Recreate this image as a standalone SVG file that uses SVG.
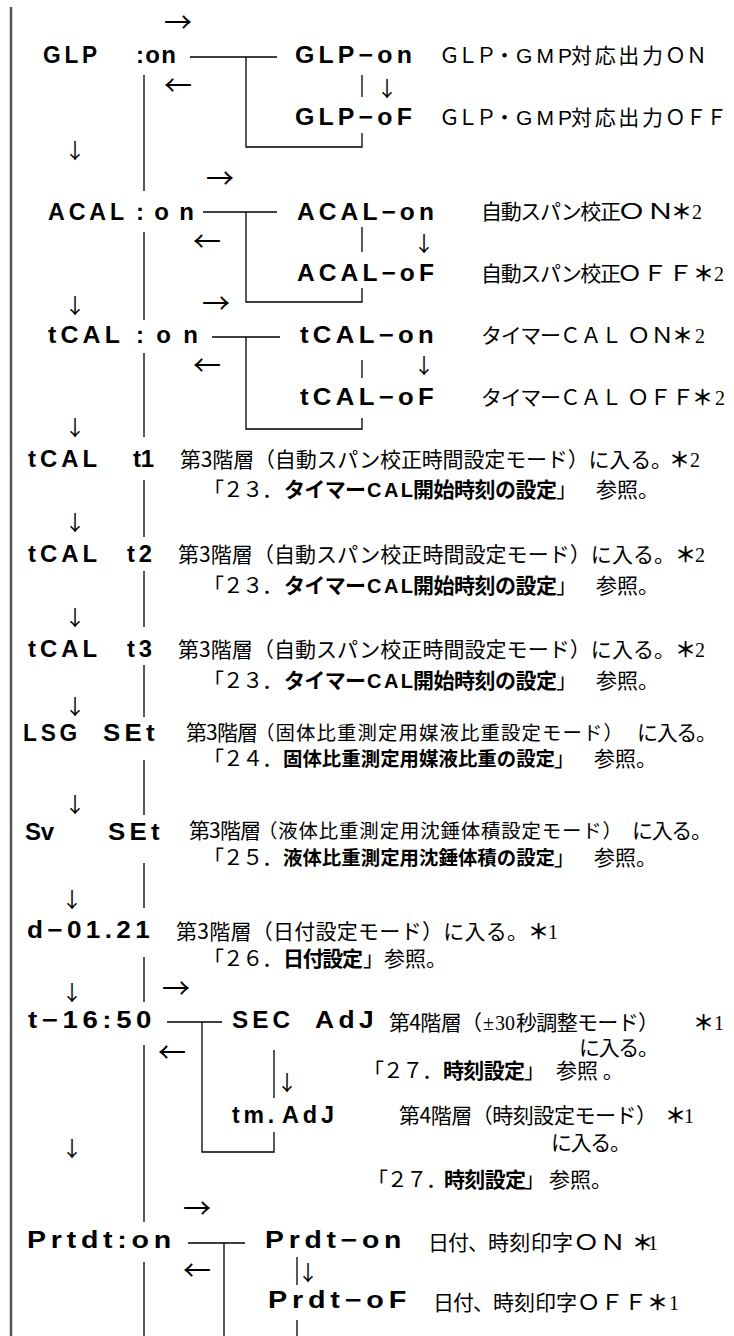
<svg xmlns="http://www.w3.org/2000/svg" width="734" height="1336" viewBox="0 0 734 1336">
<style>
.c{font-family:"Liberation Sans",Arial,sans-serif;font-weight:bold;font-size:24px;fill:#000}
.w{letter-spacing:4px}
.j{font-family:"Noto Sans CJK JP","Noto Sans CJK SC",sans-serif;font-size:21px;fill:#000}
.jn{font-family:"Noto Sans CJK JP","Noto Sans CJK SC",sans-serif;font-size:19.4px;fill:#000}
.b{font-weight:bold}
.lat{font-family:"Liberation Sans",Arial,sans-serif;font-size:21px;fill:#000}
.lb{font-family:"Liberation Sans",Arial,sans-serif;font-size:20px;font-weight:bold;fill:#000}
.s{font-family:"Liberation Serif","Times New Roman",serif;font-size:20px;font-weight:normal;fill:#000}
.st{font-family:"Noto Sans CJK JP",sans-serif;font-size:21px;font-weight:bold;fill:#000}
.ar{font-family:"Noto Sans CJK JP",sans-serif;font-size:28px;fill:#000;text-anchor:middle}
.dn{font-family:"Noto Sans CJK JP",sans-serif;font-size:21px;fill:#000;text-anchor:middle}
.l{stroke:#000;stroke-width:1.3;fill:none}
.m{stroke:#222;stroke-width:1.5;fill:none}
.bd{stroke:#555;stroke-width:2.5;fill:none}
</style>

<g id="connectors">
<line class="bd" x1="11" y1="7" x2="11" y2="1336"/>
<path class="m" d="M144 75V191 M144 232V320 M144 353V437 M144 480V537 M144 571V627 M144 665V717 M144 760V815 M144 863V908 M144 957V1002 M144 1045V1222 M144 1262V1336"/>
<path class="l" d="M190 57H277 M246 57V147H362V133 M362 75V97"/>
<path class="l" d="M203 212H277 M246 212V302H362V288 M362 227V252"/>
<path class="l" d="M212 337H280 M246 337V429H362V418 M362 360V378"/>
<path class="l" d="M167 1022H222 M202 1022V1152H274V1132 M274 1050V1098"/>
<path class="l" d="M188 1243H245 M224 1243V1336 M297 1257V1285 M297 1320V1336"/>
</g>

<g id="arrows">
<text class="ar" x="178" y="33">→</text>
<text class="ar" x="178" y="96">←</text>
<text class="ar" x="220" y="189">→</text>
<text class="ar" x="207" y="252">←</text>
<text class="ar" x="216" y="314">→</text>
<text class="ar" x="207" y="376">←</text>
<text class="ar" x="176" y="999">→</text>
<text class="ar" x="172" y="1063">←</text>
<text class="ar" x="197" y="1219">→</text>
<text class="ar" x="197" y="1281">←</text>
<text class="dn" x="75" y="158">↓</text>
<text class="dn" x="75" y="313">↓</text>
<text class="dn" x="75" y="435">↓</text>
<text class="dn" x="75" y="530">↓</text>
<text class="dn" x="75" y="625">↓</text>
<text class="dn" x="75" y="714">↓</text>
<text class="dn" x="75" y="812">↓</text>
<text class="dn" x="72" y="907">↓</text>
<text class="dn" x="72" y="1000">↓</text>
<text class="dn" x="72" y="1156">↓</text>
<text class="dn" x="387" y="96">↓</text>
<text class="dn" x="424" y="251">↓</text>
<text class="dn" x="424" y="373">↓</text>
<text class="dn" x="287" y="1090">↓</text>
<text class="dn" x="308" y="1280">↓</text>
</g>

<g id="node-glp">
<text class="c w" x="43" y="63" textLength="58" lengthAdjust="spacingAndGlyphs">GLP</text>
<text class="c" x="136" y="63" textLength="40">:on</text>
</g>
<g id="node-glp-on">
<text class="c w" x="295" y="63" textLength="121" lengthAdjust="spacingAndGlyphs">GLP−on</text>
<text class="j" x="439" y="63" textLength="76">ＧＬＰ・</text>
<text class="lat" x="516" y="63" textLength="56">GMP</text>
<text class="j" x="571" y="63" textLength="92">対応出力</text>
<text class="j" x="665" y="63" textLength="42" lengthAdjust="spacingAndGlyphs">ＯＮ</text>
</g>
<g id="node-glp-of">
<text class="c w" x="295" y="125" textLength="121" lengthAdjust="spacingAndGlyphs">GLP−oF</text>
<text class="j" x="439" y="125" textLength="76">ＧＬＰ・</text>
<text class="lat" x="516" y="125" textLength="56">GMP</text>
<text class="j" x="571" y="125" textLength="92">対応出力</text>
<text class="j" x="665" y="125" textLength="62" lengthAdjust="spacingAndGlyphs">ＯＦＦ</text>
</g>

<g id="node-acal">
<text class="c w" x="48" y="220" textLength="80" lengthAdjust="spacingAndGlyphs">ACAL</text>
<text class="c" x="136" y="220" textLength="58">:on</text>
</g>
<g id="node-acal-on">
<text class="c w" x="297" y="220" textLength="141" lengthAdjust="spacingAndGlyphs">ACAL−on</text>
<text class="j" x="481" y="219" textLength="140">自動スパン校正</text>
<text class="j" x="617" y="219" textLength="58" lengthAdjust="spacingAndGlyphs">ＯＮ</text>
<text class="st" x="671" y="219">＊<tspan class="s" x="692">2</tspan></text>
</g>
<g id="node-acal-of">
<text class="c w" x="297" y="281" textLength="141" lengthAdjust="spacingAndGlyphs">ACAL−oF</text>
<text class="j" x="481" y="281" textLength="140">自動スパン校正</text>
<text class="j" x="617" y="281" textLength="76" lengthAdjust="spacingAndGlyphs">ＯＦＦ</text>
<text class="st" x="693" y="281">＊<tspan class="s" x="714">2</tspan></text>
</g>

<g id="node-tcal">
<text class="c w" x="48" y="343" textLength="76" lengthAdjust="spacingAndGlyphs">tCAL</text>
<text class="c" x="136" y="343" textLength="62">:on</text>
</g>
<g id="node-tcal-on">
<text class="c w" x="300" y="343" textLength="138" lengthAdjust="spacingAndGlyphs">tCAL−on</text>
<text class="j" x="481" y="343" textLength="80">タイマー</text>
<text class="j" x="560" y="343" textLength="62" lengthAdjust="spacingAndGlyphs">ＣＡＬ</text>
<text class="j" x="627" y="343" textLength="47" lengthAdjust="spacingAndGlyphs">ＯＮ</text>
<text class="st" x="672" y="343">＊<tspan class="s" x="695">2</tspan></text>
</g>
<g id="node-tcal-of">
<text class="c w" x="300" y="405" textLength="138" lengthAdjust="spacingAndGlyphs">tCAL−oF</text>
<text class="j" x="481" y="405" textLength="80">タイマー</text>
<text class="j" x="560" y="405" textLength="62" lengthAdjust="spacingAndGlyphs">ＣＡＬ</text>
<text class="j" x="627" y="405" textLength="67" lengthAdjust="spacingAndGlyphs">ＯＦＦ</text>
<text class="st" x="692" y="405">＊<tspan class="s" x="715">2</tspan></text>
</g>

<g id="node-tcal-t1">
<text class="c w" x="28" y="467" textLength="73" lengthAdjust="spacingAndGlyphs">tCAL</text>
<text class="c" x="133" y="467" textLength="21">t1</text>
<text class="j" x="180" y="467" textLength="492">第3階層（自動スパン校正時間設定モード）に入る。</text>
<text class="st" x="669" y="467">＊<tspan class="s" x="690">2</tspan></text>
<text class="j" x="203" y="497" textLength="80">「２３．</text>
<text class="j b" x="284" y="497" textLength="82">タイマー</text>
<text class="lb" x="367" y="497" textLength="46">CAL</text>
<text class="j b" x="413" y="497" textLength="144">開始時刻の設定</text>
<text class="j" x="556" y="497">」<tspan x="596">参照。</tspan></text>
</g>
<g id="node-tcal-t2">
<text class="c w" x="28" y="562" textLength="73" lengthAdjust="spacingAndGlyphs">tCAL</text>
<text class="c w" x="127" y="562" textLength="29" lengthAdjust="spacingAndGlyphs">t2</text>
<text class="j" x="178" y="562" textLength="497">第3階層（自動スパン校正時間設定モード）に入る。</text>
<text class="st" x="675" y="562">＊<tspan class="s" x="695">2</tspan></text>
<text class="j" x="203" y="593" textLength="80">「２３．</text>
<text class="j b" x="284" y="593" textLength="82">タイマー</text>
<text class="lb" x="367" y="593" textLength="46">CAL</text>
<text class="j b" x="413" y="593" textLength="144">開始時刻の設定</text>
<text class="j" x="556" y="593">」<tspan x="596">参照。</tspan></text>
</g>
<g id="node-tcal-t3">
<text class="c w" x="28" y="657" textLength="73" lengthAdjust="spacingAndGlyphs">tCAL</text>
<text class="c w" x="127" y="657" textLength="29" lengthAdjust="spacingAndGlyphs">t3</text>
<text class="j" x="178" y="657" textLength="497">第3階層（自動スパン校正時間設定モード）に入る。</text>
<text class="st" x="675" y="657">＊<tspan class="s" x="695">2</tspan></text>
<text class="j" x="203" y="688" textLength="80">「２３．</text>
<text class="j b" x="284" y="688" textLength="82">タイマー</text>
<text class="lb" x="367" y="688" textLength="46">CAL</text>
<text class="j b" x="413" y="688" textLength="144">開始時刻の設定</text>
<text class="j" x="556" y="688">」<tspan x="596">参照。</tspan></text>
</g>

<g id="node-lsg">
<text class="c w" x="23" y="741" textLength="58" lengthAdjust="spacingAndGlyphs">LSG</text>
<text class="c w" x="103" y="741" textLength="56" lengthAdjust="spacingAndGlyphs">SEt</text>
<text class="j" x="186" y="740" textLength="72">第3階層</text>
<text class="jn" x="255" y="740" textLength="368">（固体比重測定用媒液比重設定モード）</text>
<text class="j" x="637" y="740" textLength="80">に入る。</text>
<text class="j" x="203" y="766" textLength="80">「２４．</text>
<text class="jn b" x="283" y="766" textLength="272">固体比重測定用媒液比重の設定</text>
<text class="j" x="554" y="766">」<tspan x="594">参照。</tspan></text>
</g>

<g id="node-sv">
<text class="c" x="25" y="840" textLength="29">Sv</text>
<text class="c w" x="108" y="840" textLength="56" lengthAdjust="spacingAndGlyphs">SEt</text>
<text class="j" x="189" y="838" textLength="72">第3階層</text>
<text class="jn" x="258" y="838" textLength="364">（液体比重測定用沈錘体積設定モード）</text>
<text class="j" x="632" y="838" textLength="80">に入る。</text>
<text class="j" x="203" y="865" textLength="80">「２５．</text>
<text class="jn b" x="283" y="865" textLength="272">液体比重測定用沈錘体積の設定</text>
<text class="j" x="554" y="865">」<tspan x="594">参照。</tspan></text>
</g>

<g id="node-date">
<text class="c w" x="27" y="938" textLength="127" lengthAdjust="spacingAndGlyphs">d−01.21</text>
<text class="j" x="176" y="939" textLength="352">第3階層（日付設定モード）に入る。</text>
<text class="st" x="528" y="939">＊<tspan class="s" x="548">1</tspan></text>
<text class="j" x="203" y="966" textLength="80">「２６．</text>
<text class="j b" x="283" y="966" textLength="80">日付設定</text>
<text class="j" x="363" y="966">」<tspan x="384">参照。</tspan></text>
</g>

<g id="node-time">
<text class="c w" x="28" y="1028" textLength="128" lengthAdjust="spacingAndGlyphs">t−16:50</text>
</g>
<g id="node-secadj">
<text class="c w" x="232" y="1028" textLength="62" lengthAdjust="spacingAndGlyphs">SEC</text>
<text class="c w" x="315" y="1028" textLength="63" lengthAdjust="spacingAndGlyphs">AdJ</text>
<text class="j" x="389" y="1030" textLength="93">第4階層（</text>
<text class="s" x="483" y="1030">±<tspan x="495">30</tspan></text>
<text class="j" x="516" y="1030" textLength="143">秒調整モード）</text>
<text class="st" x="693" y="1030">＊<tspan class="s" x="714">1</tspan></text>
<text class="j" x="579" y="1055" textLength="80">に入る。</text>
<text class="j" x="363" y="1078" textLength="80">「２７．</text>
<text class="j b" x="443" y="1078" textLength="82">時刻設定</text>
<text class="j" x="524" y="1078">」<tspan x="556">参照 。</tspan></text>
</g>
<g id="node-tmadj">
<text class="c w" x="232" y="1123" textLength="46" lengthAdjust="spacingAndGlyphs">tm.</text>
<text class="c w" x="282" y="1123" textLength="56" lengthAdjust="spacingAndGlyphs">AdJ</text>
<text class="j" x="399" y="1123" textLength="258">第4階層（時刻設定モード）</text>
<text class="st" x="665" y="1123">＊<tspan class="s" x="684">1</tspan></text>
<text class="j" x="551" y="1150" textLength="80">に入る。</text>
<text class="j" x="367" y="1187" textLength="80">「２７．</text>
<text class="j b" x="444" y="1187" textLength="82">時刻設定</text>
<text class="j" x="524" y="1187">」<tspan x="549">参照。</tspan></text>
</g>

<g id="node-prtdt">
<text class="c w" x="27" y="1248" textLength="149" lengthAdjust="spacingAndGlyphs">Prtdt:on</text>
</g>
<g id="node-prdt-on">
<text class="c w" x="265" y="1248" textLength="141" lengthAdjust="spacingAndGlyphs">Prdt−on</text>
<text class="j" x="428" y="1250" textLength="61">日付、</text>
<text class="j" x="488" y="1250" textLength="85">時刻印字</text>
<text class="j" x="573" y="1250" textLength="53" lengthAdjust="spacingAndGlyphs">ＯＮ</text>
<text class="st" x="632" y="1250">＊<tspan class="s" x="648">1</tspan></text>
</g>
<g id="node-prdt-of">
<text class="c w" x="268" y="1308" textLength="143" lengthAdjust="spacingAndGlyphs">Prdt−oF</text>
<text class="j" x="433" y="1310" textLength="61">日付、</text>
<text class="j" x="493" y="1310" textLength="84">時刻印字</text>
<text class="j" x="577" y="1310" textLength="70" lengthAdjust="spacingAndGlyphs">ＯＦＦ</text>
<text class="st" x="647" y="1310">＊<tspan class="s" x="669">1</tspan></text>
</g>
</svg>
